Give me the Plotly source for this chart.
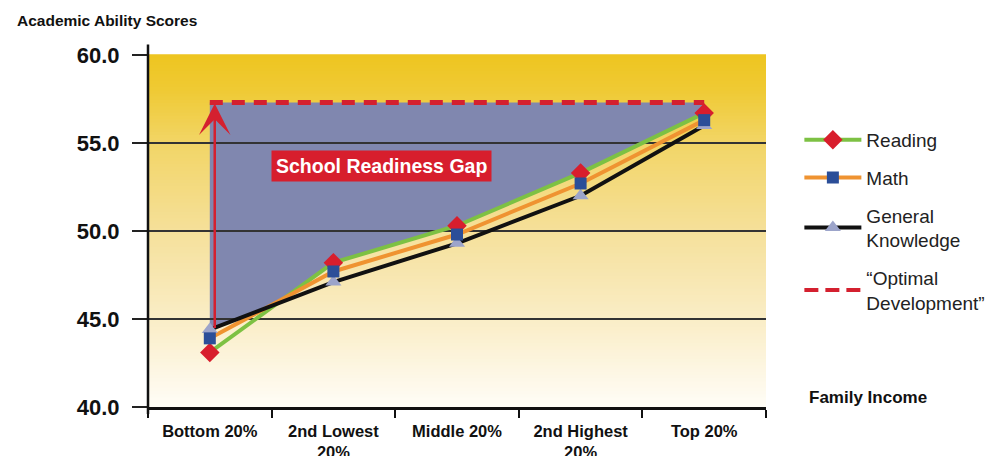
import plotly.graph_objects as go

# ---- data ----
categories = ["Bottom 20%", "2nd Lowest<br>20%", "Middle 20%", "2nd Highest<br>20%", "Top 20%"]
reading = [43.1, 48.2, 50.3, 53.3, 56.7]
math_scores = [43.9, 47.7, 49.8, 52.7, 56.3]
general_knowledge = [44.4, 47.1, 49.3, 52.0, 56.0]
optimal_level = 57.3
y_tick_values = [40, 45, 50, 55, 60]

series_names = ["Reading", "Math", "General<br>Knowledge"]
optimal_name = "\u201cOptimal<br>Development\u201d"

# ---- styles ----
FONT = "Liberation Sans, Arial, Helvetica, sans-serif"
GREEN, ORANGE, BLACK = "#7DC143", "#EF9331", "#111111"
RED, BLUE, LAV, PURPLE = "#D4202F", "#2B4E98", "#9CA4CA", "#8087AF"

x = list(range(len(categories)))
series = [reading, math_scores, general_knowledge]

# upper envelope of the three series (for the gap area)
env_x, env_y = [], []
for i in range(len(x) - 1):
    ts = {0.0, 1.0}
    for a in range(len(series)):
        for b in range(a + 1, len(series)):
            da = series[a][i] - series[b][i]
            db = series[a][i + 1] - series[b][i + 1]
            if da * db < 0:
                ts.add(da / (da - db))
    for t in sorted(ts):
        if i > 0 and t == 0.0:
            continue
        env_x.append(x[i] + t)
        env_y.append(max(s[i] + t * (s[i + 1] - s[i]) for s in series))

path = f"M{x[0]},{optimal_level} L{x[-1]},{optimal_level} "
path += " ".join(f"L{ex},{ey}" for ex, ey in zip(reversed(env_x), reversed(env_y)))
path += " Z"

fig = go.Figure()

# lines
line_styles = [(reading, GREEN), (math_scores, ORANGE), (general_knowledge, BLACK)]
for vals, col in line_styles:
    fig.add_trace(go.Scatter(x=x, y=vals, mode="lines", line=dict(color=col, width=4),
                             showlegend=False, hoverinfo="skip"))

# optimal dashed line
fig.add_trace(go.Scatter(x=[x[0], x[-1]], y=[optimal_level, optimal_level], mode="lines",
                         line=dict(color=RED, width=5, dash="13px,9px"),
                         showlegend=False, hoverinfo="skip"))

# markers: triangle, diamond, square
fig.add_trace(go.Scatter(x=x, y=general_knowledge, mode="markers",
                         marker=dict(symbol="triangle-up", size=14, color=LAV),
                         showlegend=False))
fig.add_trace(go.Scatter(x=x, y=reading, mode="markers",
                         marker=dict(symbol="diamond", size=15, color="#D81E2D"),
                         showlegend=False))
fig.add_trace(go.Scatter(x=x, y=math_scores, mode="markers",
                         marker=dict(symbol="square", size=12, color=BLUE),
                         showlegend=False))

# legend entries
legend_specs = [
    (series_names[0], GREEN, "diamond", "#D81E2D", 15),
    (series_names[1], ORANGE, "square", BLUE, 12),
    (series_names[2], BLACK, "triangle-up", LAV, 14),
]
for k, (name, lc, sym, mc, ms) in enumerate(legend_specs):
    fig.add_trace(go.Scatter(x=[None], y=[None], mode="lines+markers", name=name,
                             legendgroup=f"g{k}",
                             line=dict(color=lc, width=4),
                             marker=dict(symbol=sym, color=mc, size=ms)))
fig.add_trace(go.Scatter(x=[None], y=[None], mode="lines", name=optimal_name,
                         legendgroup="g3",
                         line=dict(color=RED, width=4, dash="14px,7px")))

# background gradient bands (paper coords)
stops = [(0.0, (255, 253, 247)), (0.25, (250, 237, 198)), (0.5, (245, 224, 154)),
         (0.75, (242, 213, 102)), (0.9, (239, 202, 52)), (1.0, (238, 197, 32))]


def col_at(f):
    for (f0, c0), (f1, c1) in zip(stops[:-1], stops[1:]):
        if f0 <= f <= f1:
            t = (f - f0) / (f1 - f0)
            return "rgb(%d,%d,%d)" % tuple(round(a + t * (b - a)) for a, b in zip(c0, c1))
    return "rgb(%d,%d,%d)" % stops[-1][1]


shapes = []
N = 110
for k in range(N):
    f0, f1 = k / N, (k + 1) / N
    shapes.append(dict(type="rect", xref="paper", yref="paper", x0=0, x1=1, y0=f0, y1=f1 + 0.002,
                       fillcolor=col_at((f0 + f1) / 2), line=dict(width=0), layer="below"))
# gap area
shapes.append(dict(type="path", xref="x", yref="y", path=path, fillcolor=PURPLE,
                   line=dict(width=0), layer="below"))
# y axis line (extends a bit beyond the plot)
shapes.append(dict(type="line", xref="paper", yref="paper", x0=0, x1=0, y0=-0.02, y1=1.03,
                   line=dict(color=BLACK, width=2.5), layer="above"))

annotations = [
    dict(x=x[0] + 0.04, y=optimal_level, ax=x[0] + 0.04, ay=general_knowledge[0],
         axref="x", ayref="y", xref="x", yref="y", text="", showarrow=True,
         arrowhead=3, arrowsize=2.1, arrowwidth=2.5, arrowcolor=RED,
         standoff=1, startstandoff=0),
    dict(x=1.39, y=53.7, xref="x", yref="y", text="<b>School Readiness Gap</b>",
         showarrow=False, bgcolor="#D71E2D", borderpad=4,
         font=dict(family=FONT, size=19.5, color="white")),
    dict(x=-0.215, y=1.099, xref="paper", yref="paper", xanchor="left", yanchor="middle",
         text="<b>Academic Ability Scores</b>", showarrow=False,
         font=dict(family=FONT, size=15.5, color="#111")),
    dict(x=1.066, y=0.028, xref="paper", yref="paper", xanchor="left", yanchor="middle",
         text="<b>Family Income</b>", showarrow=False,
         font=dict(family=FONT, size=17, color="#111")),
]

fig.update_layout(
    width=987, height=448,
    margin=dict(l=140, r=229, t=47, b=49, autoexpand=False),
    paper_bgcolor="white", plot_bgcolor="white",
    shapes=shapes, annotations=annotations,
    showlegend=True,
    legend=dict(x=1.054, y=0.8125, xanchor="left", yanchor="top", itemwidth=57,
                tracegroupgap=10, font=dict(family=FONT, size=19, color="#222"),
                bgcolor="rgba(0,0,0,0)"),
    xaxis=dict(range=[-0.5, len(categories) - 0.5], tickmode="array", tickvals=x,
               ticktext=["<b>%s</b>" % c for c in categories], ticks="",
               tickfont=dict(family=FONT, size=16.5, color="#111"),
               ticklabelstandoff=7, automargin=False,
               showline=True, linecolor=BLACK, linewidth=2.5, showgrid=False, zeroline=False,
               minor=dict(tickmode="array", tickvals=[i - 0.5 for i in range(len(categories) + 1)],
                          ticks="outside", ticklen=8, tickwidth=1.5, tickcolor=BLACK,
                          showgrid=False)),
    yaxis=dict(range=[y_tick_values[0], y_tick_values[-1]], tickmode="array",
               tickvals=y_tick_values, tickformat=".1f",
               ticks="outside", ticklen=15, tickwidth=1.5, tickcolor="#222",
               ticklabelstandoff=8, automargin=False,
               tickfont=dict(family=FONT, size=22, color="#111", weight="bold"),
               showgrid=True, gridcolor="#333333", gridwidth=1.5,
               showline=False, zeroline=False),
)

fig.write_html("out.html")
